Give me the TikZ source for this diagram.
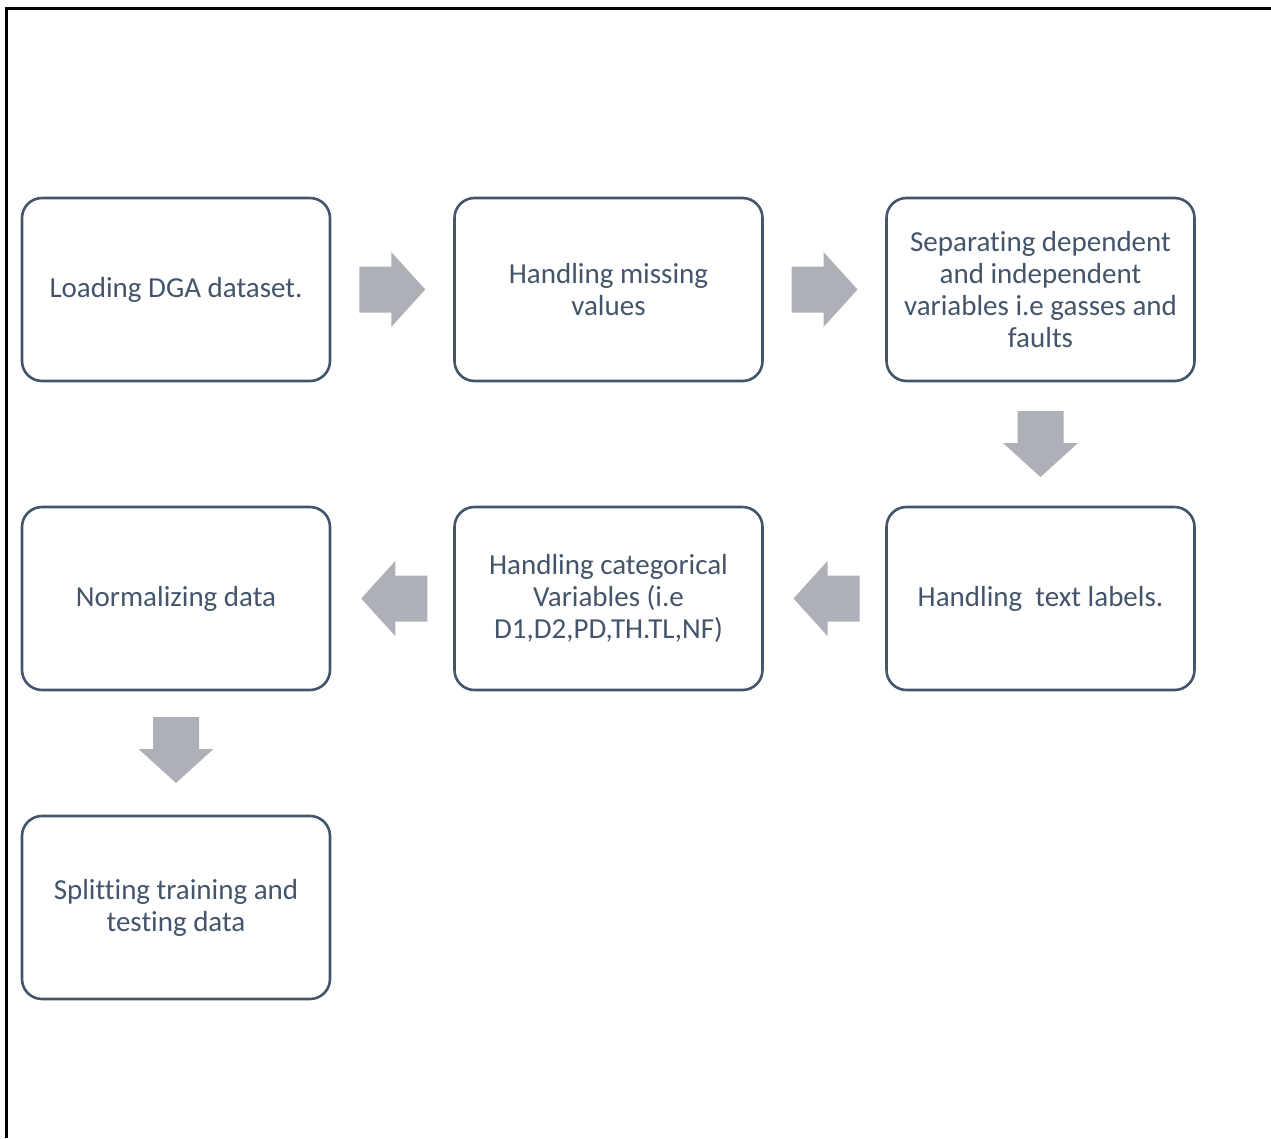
\documentclass[tikz,border=0pt]{standalone}
\usepackage{fontspec}
\setmainfont{Carlito}[Ligatures=NoCommon]
\usetikzlibrary{calc}
\definecolor{slate}{HTML}{44546A}
\definecolor{arrowgray}{HTML}{AEB0B8}
\tikzset{
  stepbox/.style={draw=slate, line width=2.6pt, rounded corners=20pt,
    minimum width=308pt, minimum height=183pt, inner sep=0pt,
    align=center, text=slate, font=\fontsize{29}{32}\selectfont},
  blockarrow/.pic={
    \fill[arrowgray] (-33,-23) -- (-1,-23) -- (-1,-37.5) -- (33,0)
      -- (-1,37.5) -- (-1,23) -- (-33,23) -- cycle;
  }
}
\begin{document}
\begin{tikzpicture}[x=1pt,y=-1pt]
  \useasboundingbox (0,0) rectangle (1271,1138);
  % outer frame (left and top edges)
  \draw[line width=3pt] (6.5,1138) -- (6.5,8) -- (1271,8);

  % process steps
  \node[stepbox] (load)  at (176,289.5)    {Loading DGA dataset.};
  \node[stepbox] (miss)  at (608.5,289.5)  {Handling missing\\values};
  \node[stepbox] (sep)   at (1040.5,289.5) {Separating dependent\\and independent\\variables i.e gasses and\\faults};
  \node[stepbox] (text)  at (1040.5,598.5) {Handling\ \ text labels.};
  \node[stepbox] (cat)   at (608.5,598.5)  {Handling categorical\\Variables (i.e\\D1,D2,PD,TH.TL,NF)};
  \node[stepbox] (norm)  at (176,598.5)    {Normalizing data};
  \node[stepbox] (split) at (176,907.5)    {Splitting training and\\testing data};

  % block arrows between steps
  \pic at ($(load.east)!0.5!(miss.west)$) {blockarrow};
  \pic at ($(miss.east)!0.5!(sep.west)$) {blockarrow};
  \pic[rotate=-90] at ($(sep.south)!0.5!(text.north)$) {blockarrow};
  \pic[rotate=180] at ($(text.west)!0.5!(cat.east)+(2,0)$) {blockarrow};
  \pic[rotate=180] at ($(cat.west)!0.5!(norm.east)+(2,0)$) {blockarrow};
  \pic[rotate=-90] at ($(norm.south)!0.5!(split.north)+(0,-3)$) {blockarrow};
\end{tikzpicture}
\end{document}
